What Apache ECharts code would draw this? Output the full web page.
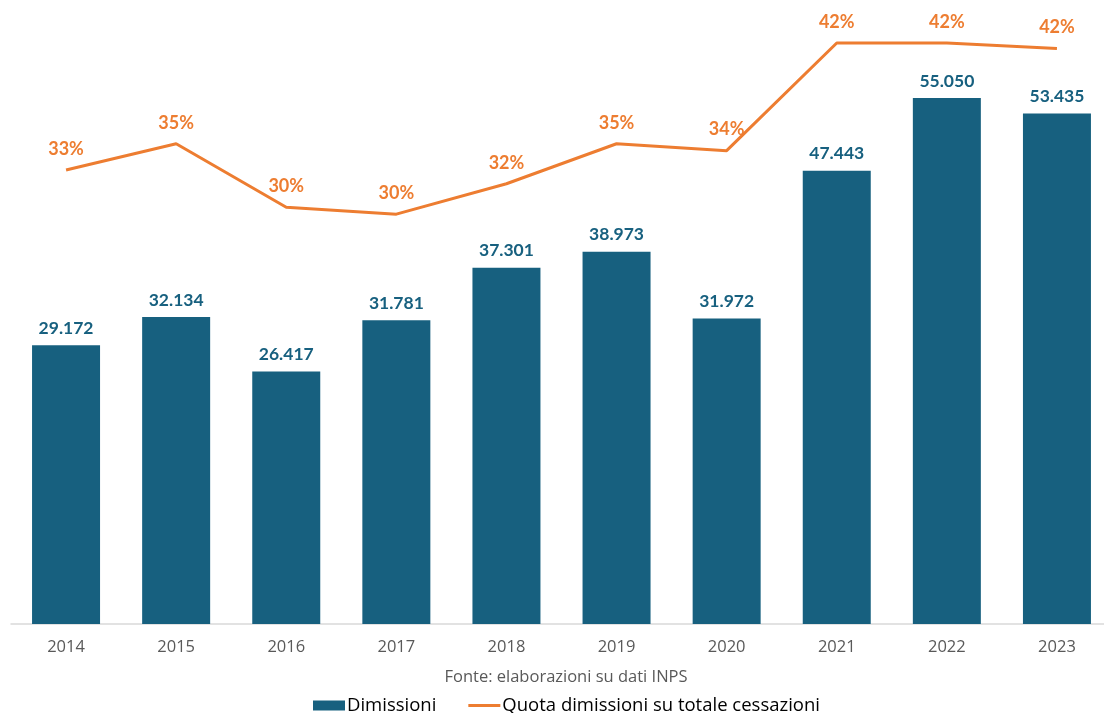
<!DOCTYPE html>
<html><head><meta charset="utf-8">
<script src="https://cdn.jsdelivr.net/npm/echarts@6/dist/echarts.min.js"></script>
<style>html,body{margin:0;padding:0;background:#fff}#c{width:1104px;height:713px}</style>
</head><body><div id="c"></div>
<script>
const years = ['2014','2015','2016','2017','2018','2019','2020','2021','2022','2023'];
const dimissioni = [29172, 32134, 26417, 31781, 37301, 38973, 31972, 47443, 55050, 53435];
const quota = [0.329, 0.348, 0.302, 0.297, 0.319, 0.348, 0.343, 0.421, 0.421, 0.417];
const sourceText = 'Fonte: elaborazioni su dati INPS';
const F = 'Lato, "DejaVu Sans", sans-serif';
const F2 = '"Open Sans", Lato, sans-serif';
const chart = echarts.init(document.getElementById('c'));
chart.setOption({
  animation: false,
  grid: { left: 11, right: -8, top: 3, bottom: 89, containLabel: false, outerBoundsMode: 'none' },
  title: { text: sourceText, left: 561, textAlign: 'center', top: 664,
    textStyle: { fontFamily: F2, fontSize: 16.5, fontWeight: 'normal', color: '#595959' } },
  legend: { top: 691, left: 308, itemGap: 32, itemWidth: 32, itemHeight: 10,
    textStyle: { fontFamily: F2, fontSize: 18.5, color: '#000', padding: [0, 0, 0, -3] },
    data: [{ name: 'Dimissioni', icon: 'rect' },
           { name: 'Quota dimissioni su totale cessazioni', icon: 'path://M0,0 L32,0 L32,3 L0,3 Z', itemStyle: { color: '#ed7d31' } }] },
  xAxis: { type: 'category', data: years,
    axisLine: { lineStyle: { color: '#d9d9d9', width: 1.5 } }, axisTick: { show: false },
    axisLabel: { fontFamily: F2, fontSize: 16.5, color: '#595959', margin: 15 } },
  yAxis: [
    { type: 'value', min: 0, max: 65000, show: false, splitLine: { show: false } },
    { type: 'value', min: 0, max: 0.45, show: false, splitLine: { show: false } }
  ],
  series: [
    { name: 'Dimissioni', type: 'bar', data: dimissioni, barWidth: 68,
      itemStyle: { color: '#17607f' },
      label: { show: true, position: 'top', distance: 8, fontFamily: F, fontSize: 17.5, fontWeight: 'bold', color: '#17607f',
        formatter: p => p.value.toLocaleString('it-IT').replace(/,/g, '.') } },
    { name: 'Quota dimissioni su totale cessazioni', type: 'line', yAxisIndex: 1, data: quota,
      symbol: 'circle', symbolSize: 0.1, showSymbol: true,
      lineStyle: { color: '#ed7d31', width: 3 }, itemStyle: { color: '#ed7d31' },
      label: { show: true, position: 'top', distance: 12, fontFamily: F, fontSize: 18, fontWeight: 'bold', color: '#ed7d31',
        formatter: p => Math.round(p.value * 100) + '%' } }
  ]
});
</script></body></html>
